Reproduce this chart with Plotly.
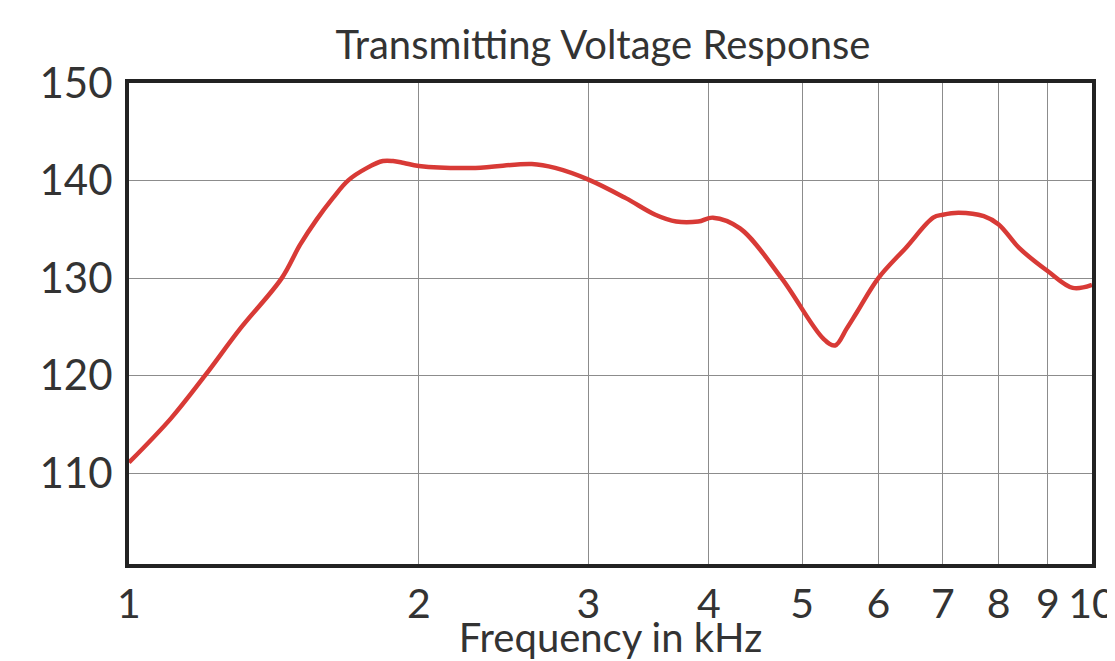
import plotly.graph_objects as go

# Data
freq_khz = [1.0, 1.105, 1.199, 1.304, 1.441, 1.505, 1.566, 1.628, 1.688, 1.767, 1.835, 1.88, 1.93, 2.0,
            2.29, 2.62, 2.77, 3.0, 3.28, 3.52, 3.7, 3.9, 4.04, 4.31, 4.76,
            5.26, 5.41, 5.56, 5.70, 6.0, 6.42, 6.84, 7.0, 7.27, 7.72, 8.0, 8.4, 9.0, 9.55, 10.0]
tvr_db = [111.1, 115.6, 120.0, 124.8, 130.0, 133.4, 136.0, 138.2, 140.0, 141.3, 142.0, 142.0, 141.8, 141.5,
          141.3, 141.7, 141.3, 140.1, 138.2, 136.5, 135.8, 135.8, 136.2, 135.1, 130.0,
          123.8, 123.1, 124.8, 126.5, 130.0, 133.2, 136.2, 136.5, 136.7, 136.35, 135.5, 133.1, 130.7, 129.0, 129.3]

x_ticks = [1, 2, 3, 4, 5, 6, 7, 8, 9, 10]
x_tick_labels = ["1", "2", "3", "4", "5", "6", "7", "8", "9", "10"]
y_ticks = [110, 120, 130, 140, 150]
y_tick_labels = ["110", "120", "130", "140", "150"]

FONT = "Lato"
TXT = "#333333"

fig = go.Figure()
fig.add_trace(go.Scatter(
    x=freq_khz, y=tvr_db, mode="lines",
    line=dict(color="#d83a36", width=4.5, shape="spline", smoothing=1.0),
    showlegend=False, hoverinfo="skip",
))

# page body has an 8px margin, so the figure is sized to fit the 1115x661 window
fig.update_layout(
    width=1107, height=653,
    margin=dict(l=121, r=23, t=75, b=97),
    paper_bgcolor="white", plot_bgcolor="white",
    title=dict(text="Transmitting Voltage Response", x=0.5375, xanchor="center",
               y=0.943, yanchor="middle",
               font=dict(family=FONT, size=40, color=TXT)),
    font=dict(family=FONT, color=TXT),
)

fig.update_xaxes(
    type="log", range=[0, 1], automargin=False,
    tickvals=x_ticks, ticktext=x_tick_labels, ticklabeloverflow="allow",
    tickfont=dict(family=FONT, size=41, color=TXT),
    showgrid=True, gridcolor="#8c8c8c", gridwidth=1.3,
    showline=True, linecolor="#222222", linewidth=4, mirror=True,
    ticks="outside", ticklen=1, tickcolor="rgba(0,0,0,0)",
    zeroline=False,
    title=dict(text="Frequency in kHz", font=dict(family=FONT, size=40, color=TXT), standoff=5),
)
fig.update_yaxes(
    range=[100.7, 150], automargin=False,
    tickvals=y_ticks, ticktext=y_tick_labels,
    tickfont=dict(family=FONT, size=42, color=TXT),
    showgrid=True, gridcolor="#8c8c8c", gridwidth=1.3,
    showline=True, linecolor="#222222", linewidth=4, mirror=True,
    ticks="outside", ticklen=4, tickcolor="rgba(0,0,0,0)",
    zeroline=False,
)

fig.write_html("out.html")
